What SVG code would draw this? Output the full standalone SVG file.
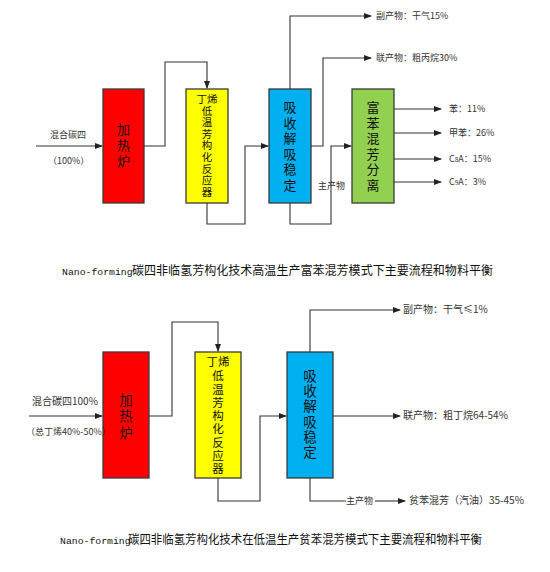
<svg xmlns="http://www.w3.org/2000/svg" width="550" height="572" viewBox="0 0 550 572">
<defs>
<marker id="ah" markerWidth="8" markerHeight="6" refX="7" refY="3" orient="auto" markerUnits="userSpaceOnUse">
<path d="M0,0 L8,3 L0,6 Z" fill="#222"/>
</marker>
<style>
.box{stroke:#3a3a3a;stroke-width:1.3}
.ln{fill:none;stroke:#333;stroke-width:1.1}
.arr{fill:none;stroke:#333;stroke-width:1.1;marker-end:url(#ah)}
.t{font-family:"Noto Sans CJK SC","Noto Sans",sans-serif;fill:#222}
.big{font-size:13px;text-anchor:middle;fill:#111}
.big2{font-size:13.5px;text-anchor:middle;fill:#111}
.mid{font-size:10.5px;text-anchor:middle;fill:#111}
.mid2{font-size:11.5px;text-anchor:middle;fill:#111}
.s9{font-size:9px;fill:#333}
.s10{font-size:10px;fill:#333}
.ttl{font-size:12.4px;fill:#111}
.lat{font-family:"Liberation Mono","DejaVu Sans Mono",monospace;font-size:9.8px;fill:#111}
</style>
</defs>
<rect width="550" height="572" fill="#fff"/>

<!-- ===== Top diagram ===== -->
<g id="top-heater">
<rect class="box" x="103" y="89" width="41" height="114" fill="#ff0000"/>
<text class="t big" x="123.5" y="134">加</text>
<text class="t big" x="123.5" y="150">热</text>
<text class="t big" x="123.5" y="166">炉</text>
</g>
<g id="top-reactor">
<rect class="box" x="186" y="89" width="42" height="114" fill="#ffff00"/>
<text class="t mid" x="207" y="103">丁烯</text>
<text class="t mid" x="207" y="114.6">低</text>
<text class="t mid" x="207" y="126.2">温</text>
<text class="t mid" x="207" y="137.8">芳</text>
<text class="t mid" x="207" y="149.4">构</text>
<text class="t mid" x="207" y="161">化</text>
<text class="t mid" x="207" y="172.6">反</text>
<text class="t mid" x="207" y="184.2">应</text>
<text class="t mid" x="207" y="195.8">器</text>
</g>
<g id="top-absorber">
<rect class="box" x="269" y="89" width="42" height="114" fill="#00b0f0"/>
<text class="t big" x="290" y="112">吸</text>
<text class="t big" x="290" y="127.6">收</text>
<text class="t big" x="290" y="143.2">解</text>
<text class="t big" x="290" y="158.8">吸</text>
<text class="t big" x="290" y="174.4">稳</text>
<text class="t big" x="290" y="190">定</text>
</g>
<g id="top-separator">
<rect class="box" x="352" y="89" width="42" height="114" fill="#92d050"/>
<text class="t big" x="373" y="112">富</text>
<text class="t big" x="373" y="127.6">苯</text>
<text class="t big" x="373" y="143.2">混</text>
<text class="t big" x="373" y="158.8">芳</text>
<text class="t big" x="373" y="174.4">分</text>
<text class="t big" x="373" y="190">离</text>
</g>

<g id="top-connectors">
<path class="arr" d="M36,146 H102"/>
<path class="arr" d="M144,146 H165 V62 H207 V88"/>
<path class="arr" d="M207,203 V224 H245 V146 H268"/>
<path class="arr" d="M290,89 V16 H371"/>
<path class="arr" d="M311,146 H323 V58 H371"/>
<path class="arr" d="M290,203 V224 H331 V146 H351"/>
<path class="arr" d="M394,109 H441"/>
<path class="arr" d="M394,133 H441"/>
<path class="arr" d="M394,159 H441"/>
<path class="arr" d="M394,182 H441"/>
</g>
<g id="top-labels">
<text class="t s9" x="50" y="138">混合碳四</text>
<text class="t s9" x="48" y="164">（100%）</text>
<text class="t s9" x="376" y="19">副产物：干气15%</text>
<text class="t s9" x="376" y="61">联产物：粗丙烷30%</text>
<text class="t s9" x="318" y="189">主产物</text>
<text class="t s9" x="449" y="112">苯：11%</text>
<text class="t s9" x="449" y="136">甲苯：26%</text>
<text class="t s9" x="449" y="162">C<tspan font-size="6.5px">8</tspan>A：15%</text>
<text class="t s9" x="449" y="185">C<tspan font-size="6.5px">9</tspan>A：3%</text>
</g>
<g id="title1">
<text class="lat" x="62" y="275">Nano-forming</text>
<text class="t ttl" x="132" y="275" textLength="361" lengthAdjust="spacingAndGlyphs">碳四非临氢芳构化技术高温生产富苯混芳模式下主要流程和物料平衡</text>
</g>

<!-- ===== Bottom diagram ===== -->
<g id="bot-heater">
<rect class="box" x="103" y="352" width="46" height="126" fill="#ff0000"/>
<text class="t big2" x="126" y="405">加</text>
<text class="t big2" x="126" y="421">热</text>
<text class="t big2" x="126" y="438">炉</text>
</g>
<g id="bot-reactor">
<rect class="box" x="195" y="352" width="46" height="126" fill="#ffff00"/>
<text class="t mid2" x="218" y="366.4">丁烯</text>
<text class="t mid2" x="218" y="380.4">低</text>
<text class="t mid2" x="218" y="393.6">温</text>
<text class="t mid2" x="218" y="406.9">芳</text>
<text class="t mid2" x="218" y="420.1">构</text>
<text class="t mid2" x="218" y="433.4">化</text>
<text class="t mid2" x="218" y="446.6">反</text>
<text class="t mid2" x="218" y="459.9">应</text>
<text class="t mid2" x="218" y="473.1">器</text>
</g>
<g id="bot-absorber">
<rect class="box" x="287" y="352" width="46" height="126" fill="#00b0f0"/>
<text class="t big2" x="310" y="381">吸</text>
<text class="t big2" x="310" y="396.2">收</text>
<text class="t big2" x="310" y="411.4">解</text>
<text class="t big2" x="310" y="426.6">吸</text>
<text class="t big2" x="310" y="441.8">稳</text>
<text class="t big2" x="310" y="457">定</text>
</g>
<g id="bot-connectors">
<path class="arr" d="M29,416 H102"/>
<path class="arr" d="M149,416 H172 V322 H218 V351"/>
<path class="arr" d="M218,478 V501 H260 V416 H286"/>
<path class="arr" d="M310,352 V310 H400"/>
<path class="arr" d="M333,416 H400"/>
<path class="ln" d="M310,478 V501 H346"/>
<path class="arr" d="M375,501 H405"/>
</g>
<g id="bot-labels">
<text class="t s10" x="32" y="405">混合碳四100%</text>
<text class="t s9" x="26" y="435">（总丁烯40%-50%）</text>
<text class="t s10" x="403" y="313">副产物：干气≤1%</text>
<text class="t s10" x="403" y="419">联产物：粗丁烷64-54%</text>
<text class="t s9" x="346" y="504">主产物</text>
<text class="t s10" x="409" y="504">贫苯混芳（汽油）35-45%</text>
</g>
<g id="title2">
<text class="lat" x="60" y="544">Nano-forming</text>
<text class="t ttl" x="128" y="544" textLength="354" lengthAdjust="spacingAndGlyphs">碳四非临氢芳构化技术在低温生产贫苯混芳模式下主要流程和物料平衡</text>
</g>
</svg>
